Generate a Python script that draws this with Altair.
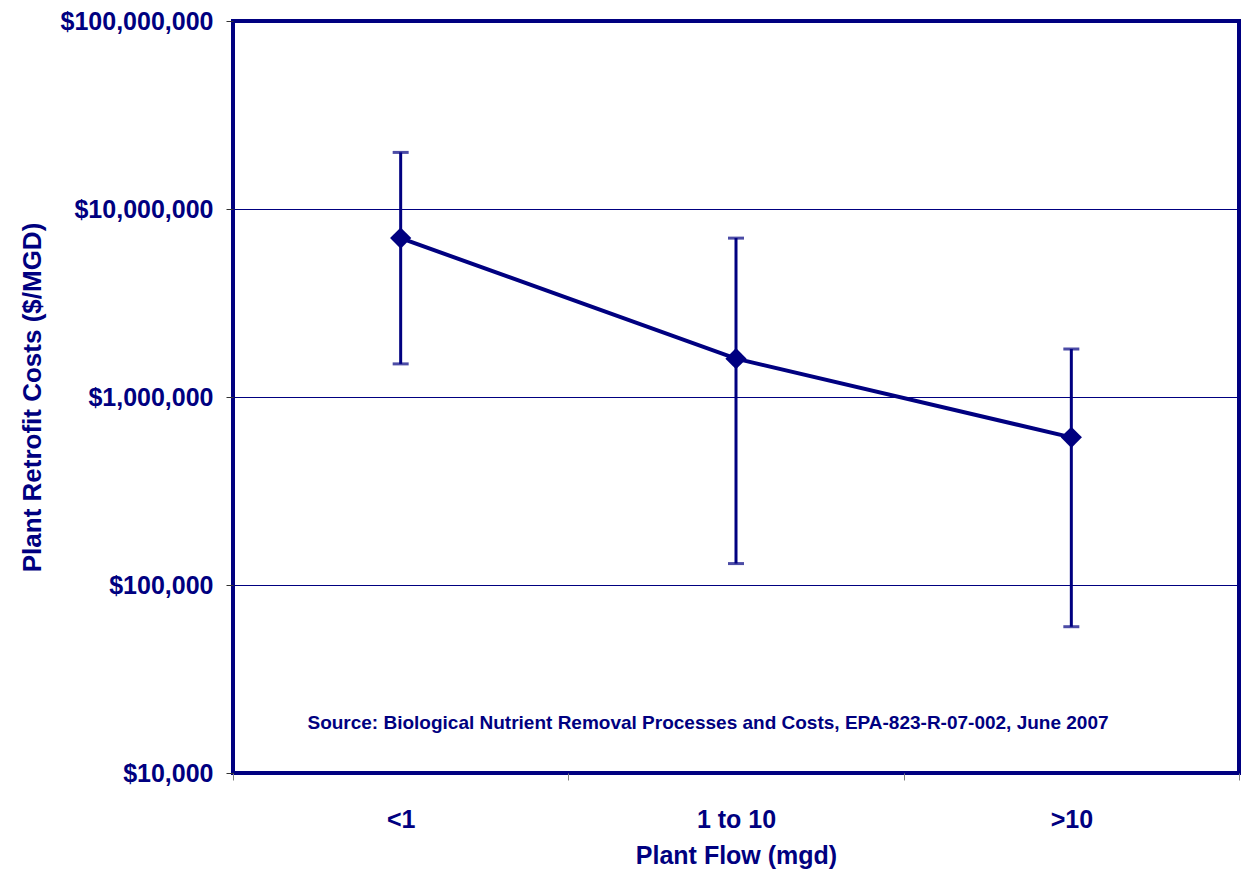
import altair as alt
import pandas as pd

categories = ["<1", "1 to 10", ">10"]
median_cost = [7_000_000, 1_600_000, 610_000]
high_cost = [20_000_000, 7_000_000, 1_800_000]
low_cost = [1_500_000, 130_000, 60_000]
y_ticks = [10_000, 100_000, 1_000_000, 10_000_000, 100_000_000]
source_note = "Source:  Biological Nutrient Removal Processes and Costs, EPA-823-R-07-002, June 2007"

NAVY = "#000080"
FONT = "Liberation Sans"

df = pd.DataFrame({"flow": categories, "cost": median_cost, "hi": high_cost, "lo": low_cost})

x_enc = alt.X(
    "flow:N",
    sort=categories,
    scale=alt.Scale(paddingInner=0, paddingOuter=0),
    axis=alt.Axis(
        title="Plant Flow (mgd)",
        labelAngle=0,
        tickBand="extent",
        tickSize=7,
        tickColor="#808080",
        domain=False,
        grid=False,
        labelPadding=27,
        titlePadding=11,
        labelFontSize=25,
        titleFontSize=25,
    ),
)

y_scale = alt.Scale(type="log", domain=[10_000, 100_000_000])
y_axis = alt.Axis(
    title="Plant Retrofit Costs ($/MGD)",
    values=y_ticks,
    format="$,.0f",
    tickSize=7,
    tickColor="#333333",
    domain=False,
    grid=True,
    gridColor=NAVY,
    gridWidth=1,
    labelPadding=13,
    titlePadding=15,
    labelFontSize=25,
    titleFontSize=26,
)

base = alt.Chart(df)

rules = base.mark_rule(color=NAVY, strokeWidth=3).encode(
    x=x_enc,
    y=alt.Y("lo:Q", scale=y_scale, axis=y_axis),
    y2="hi:Q",
)
caps_hi = base.mark_tick(color=NAVY, size=16, thickness=3, orient="horizontal").encode(
    x=alt.X("flow:N", sort=categories), y=alt.Y("hi:Q", scale=y_scale)
)
caps_lo = base.mark_tick(color=NAVY, size=16, thickness=3, orient="horizontal").encode(
    x=alt.X("flow:N", sort=categories), y=alt.Y("lo:Q", scale=y_scale)
)
line = base.mark_line(color=NAVY, strokeWidth=4).encode(
    x=alt.X("flow:N", sort=categories), y=alt.Y("cost:Q", scale=y_scale)
)
points = base.mark_point(shape="diamond", size=450, filled=True, color=NAVY, opacity=1).encode(
    x=alt.X("flow:N", sort=categories), y=alt.Y("cost:Q", scale=y_scale)
)
note = alt.Chart(pd.DataFrame({"t": [source_note]})).mark_text(
    color=NAVY, font=FONT, fontWeight="bold", fontSize=19, align="center", baseline="middle"
).encode(text="t:N", x=alt.value(475), y=alt.value(702))

chart = (
    alt.layer(rules, caps_hi, caps_lo, line, points, note)
    .properties(
        width=1006,
        height=752,
        autosize=alt.AutoSizeParams(type="none"),
        padding={"left": 225, "top": 13, "right": 2, "bottom": 97},
    )
    .configure_view(stroke=NAVY, strokeWidth=4)
    .configure_axis(
        labelFont=FONT,
        titleFont=FONT,
        labelFontWeight="bold",
        titleFontWeight="bold",
        labelColor=NAVY,
        titleColor=NAVY,
    )
)

chart.save("out.html", embed_options={"renderer": "svg", "actions": False})
